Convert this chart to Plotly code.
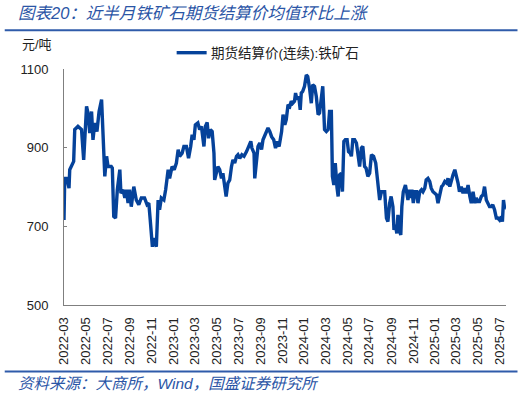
import plotly.graph_objects as go

dates = [
    "2022-03-01", "2022-03-03", "2022-03-09", "2022-03-15", "2022-03-17", "2022-03-24", "2022-03-28", "2022-03-31",
    "2022-04-09", "2022-04-19", "2022-04-25", "2022-05-03", "2022-05-07", "2022-05-12", "2022-05-17", "2022-05-21",
    "2022-05-26", "2022-06-01", "2022-06-07", "2022-06-14", "2022-06-18", "2022-06-23", "2022-06-28", "2022-07-02",
    "2022-07-11", "2022-07-14", "2022-07-18", "2022-07-23", "2022-07-28", "2022-08-04", "2022-08-07", "2022-08-13",
    "2022-08-18", "2022-08-22", "2022-08-27", "2022-08-31", "2022-09-05", "2022-09-12", "2022-09-19", "2022-09-26",
    "2022-10-03", "2022-10-12", "2022-10-19", "2022-10-24", "2022-10-28", "2022-11-03", "2022-11-07", "2022-11-14",
    "2022-11-19", "2022-11-23", "2022-11-28", "2022-12-05", "2022-12-10", "2022-12-17", "2022-12-21", "2022-12-28",
    "2023-01-03", "2023-01-09", "2023-01-14", "2023-01-18", "2023-01-25", "2023-01-30", "2023-02-06", "2023-02-12",
    "2023-02-18", "2023-02-22", "2023-02-27", "2023-03-03", "2023-03-10", "2023-03-15", "2023-03-20", "2023-03-24",
    "2023-03-27", "2023-03-31", "2023-04-05", "2023-04-09", "2023-04-14", "2023-04-19", "2023-04-24", "2023-04-26",
    "2023-04-30", "2023-05-05", "2023-05-10", "2023-05-15", "2023-05-19", "2023-05-24", "2023-05-28", "2023-06-02",
    "2023-06-07", "2023-06-12", "2023-06-16", "2023-06-21", "2023-06-26", "2023-06-30", "2023-07-05", "2023-07-11",
    "2023-07-17", "2023-07-24", "2023-07-30", "2023-08-05", "2023-08-08", "2023-08-14", "2023-08-16", "2023-08-21",
    "2023-08-25", "2023-08-30", "2023-09-04", "2023-09-08", "2023-09-13", "2023-09-18", "2023-09-22", "2023-09-27",
    "2023-10-02", "2023-10-08", "2023-10-13", "2023-10-17", "2023-10-23", "2023-10-30", "2023-11-03", "2023-11-08",
    "2023-11-12", "2023-11-17", "2023-11-22", "2023-11-26", "2023-11-30", "2023-12-05", "2023-12-08", "2023-12-12",
    "2023-12-17", "2023-12-21", "2023-12-24", "2023-12-28", "2024-01-02", "2024-01-07", "2024-01-11", "2024-01-16",
    "2024-01-21", "2024-01-25", "2024-01-30", "2024-02-04", "2024-02-09", "2024-02-13", "2024-02-18", "2024-02-22",
    "2024-02-27", "2024-03-03", "2024-03-08", "2024-03-12", "2024-03-17", "2024-03-20", "2024-03-24", "2024-03-28",
    "2024-04-02", "2024-04-05", "2024-04-09", "2024-04-14", "2024-04-17", "2024-04-21", "2024-04-25", "2024-04-30",
    "2024-05-04", "2024-05-09", "2024-05-12", "2024-05-16", "2024-05-21", "2024-05-26", "2024-05-30", "2024-06-04",
    "2024-06-09", "2024-06-13", "2024-06-18", "2024-06-22", "2024-06-27", "2024-07-02", "2024-07-07", "2024-07-13",
    "2024-07-19", "2024-07-22", "2024-07-26", "2024-07-30", "2024-08-04", "2024-08-08", "2024-08-13", "2024-08-18",
    "2024-08-22", "2024-08-27", "2024-08-31", "2024-09-05", "2024-09-08", "2024-09-12", "2024-09-16", "2024-09-19",
    "2024-09-23", "2024-09-27", "2024-09-30", "2024-10-04", "2024-10-10", "2024-10-14", "2024-10-17", "2024-10-21",
    "2024-10-25", "2024-10-28", "2024-11-01", "2024-11-05", "2024-11-10", "2024-11-14", "2024-11-19", "2024-11-24",
    "2024-11-28", "2024-12-03", "2024-12-07", "2024-12-12", "2024-12-17", "2024-12-21", "2024-12-26", "2024-12-31",
    "2025-01-05", "2025-01-09", "2025-01-14", "2025-01-19", "2025-01-23", "2025-01-28", "2025-02-02", "2025-02-06",
    "2025-02-11", "2025-02-15", "2025-02-20", "2025-02-25", "2025-03-01", "2025-03-06", "2025-03-10", "2025-03-15",
    "2025-03-20", "2025-03-24", "2025-03-29", "2025-04-03", "2025-04-08", "2025-04-12", "2025-04-17", "2025-04-22",
    "2025-04-26", "2025-04-30", "2025-05-05", "2025-05-10", "2025-05-15", "2025-05-19", "2025-05-24", "2025-05-28",
    "2025-06-02", "2025-06-07", "2025-06-11", "2025-06-16", "2025-06-21", "2025-06-25", "2025-06-30", "2025-07-05",
    "2025-07-08", "2025-07-11", "2025-07-14", "2025-07-18",
]

price = [
    716, 822, 822, 797, 844, 861, 865, 946,
    954, 946, 869, 1005, 988, 937, 992, 920,
    963, 941, 992, 1022, 946, 827, 878, 852,
    852, 848, 725, 721, 793, 844, 784, 793,
    772, 793, 759, 793, 750, 801, 767, 755,
    772, 772, 755, 759, 716, 648, 670, 648,
    767, 742, 772, 767, 793, 844, 822, 852,
    844, 861, 895, 878, 886, 903, 903, 873,
    903, 933, 920, 958, 963, 946, 954, 912,
    903, 954, 964, 924, 946, 941, 886, 818,
    831, 852, 844, 822, 835, 801, 776, 810,
    818, 852, 869, 861, 878, 882, 873, 882,
    878, 890, 903, 916, 899, 886, 822, 878,
    903, 912, 895, 920, 933, 941, 950, 941,
    928, 920, 899, 916, 903, 941, 984, 958,
    971, 1009, 1005, 1018, 1013, 1018, 1039, 1022,
    1030, 996, 1039, 1043, 1056, 1085, 1081, 1052,
    1013, 1060, 1056, 1030, 984, 988, 1030, 1056,
    946, 941, 946, 992, 992, 827, 805, 861,
    797, 776, 831, 835, 788, 916, 920, 920,
    890, 886, 878, 920, 920, 912, 886, 852,
    899, 903, 852, 848, 827, 835, 882, 878,
    861, 827, 801, 767, 788, 788, 788, 721,
    712, 759, 776, 750, 691, 704, 682, 729,
    691, 678, 750, 788, 805, 784, 767, 793,
    772, 793, 759, 788, 788, 759, 788, 793,
    788, 797, 818, 822, 814, 797, 788, 784,
    780, 759, 776, 801, 805, 814, 810, 822,
    801, 818, 831, 844, 831, 810, 788, 801,
    784, 797, 784, 805, 776, 759, 788, 759,
    772, 763, 763, 776, 780, 801, 767, 759,
    750, 750, 755, 742, 721, 721, 716, 725,
    712, 767, 746, 750,
]

tick_vals = ["2022-03-01", "2022-05-01", "2022-07-01", "2022-09-01", "2022-11-01",
             "2023-01-01", "2023-03-01", "2023-05-01", "2023-07-01", "2023-09-01", "2023-11-01",
             "2024-01-01", "2024-03-01", "2024-05-01", "2024-07-01", "2024-09-01", "2024-11-01",
             "2025-01-01", "2025-03-01", "2025-05-01", "2025-07-01"]
tick_text = [t[:7] for t in tick_vals]
y_ticks = [500, 700, 900, 1100]

series_name = "期货结算价(连续):铁矿石"
title_text = "图表20：近半月铁矿石期货结算价均值环比上涨"
source_text = "资料来源：大商所，Wind，国盛证券研究所"
unit_text = "元/吨"

W, H = 525, 397
L, R, T, B = 64.3, 506.5, 69.3, 305.0


def px(x):
    return (x - L) / (R - L)


def py(y):
    return (B - y) / (B - T)


LAT = "Liberation Sans, Arial, Noto Sans CJK SC, sans-serif"
CJK = "Liberation Sans, Noto Sans CJK SC, sans-serif"
blue_txt = "#2B55A6"
rule_col = "#2F5BAA"
line_col = "#05429A"

fig = go.Figure()
fig.add_trace(go.Scatter(
    x=dates, y=price, mode="lines", name=series_name,
    line=dict(color=line_col, width=3.4),
))

fig.update_layout(
    width=W, height=H,
    margin=dict(l=L, r=W - R, t=T, b=H - B, pad=0, autoexpand=False),
    paper_bgcolor="white", plot_bgcolor="white",
    showlegend=False,
    xaxis=dict(
        type="date", range=["2022-03-01", "2025-07-18"], automargin=False,
        tickmode="array", tickvals=tick_vals, ticktext=tick_text,
        tickangle=-90, ticks="", showgrid=False, zeroline=False,
        showline=True, linecolor="#7F7F7F", linewidth=1,
        tickfont=dict(family=LAT, size=13, color="#222222"),
        ticklabelstandoff=6,
    ),
    yaxis=dict(
        range=[500, 1100], tickmode="array", tickvals=y_ticks, automargin=False,
        ticks="inside", ticklen=3, tickcolor="#7F7F7F",
        showgrid=False, zeroline=False,
        showline=True, linecolor="#7F7F7F", linewidth=1,
        tickfont=dict(family=LAT, size=13, color="#222222"),
        ticklabelstandoff=12,
    ),
    shapes=[
        dict(type="line", xref="paper", yref="paper", x0=px(5), x1=px(518), y0=py(30.5), y1=py(30.5),
             line=dict(color=rule_col, width=2)),
        dict(type="line", xref="paper", yref="paper", x0=px(5), x1=px(518), y0=py(371.5), y1=py(371.5),
             line=dict(color=rule_col, width=2)),
        # legend key
        dict(type="line", xref="paper", yref="paper", x0=px(177), x1=px(207), y0=py(53), y1=py(53),
             line=dict(color=line_col, width=3.4)),
    ],
    annotations=[
        dict(text=title_text, xref="paper", yref="paper", x=px(16), y=py(13), xanchor="left", yanchor="middle",
             showarrow=False, font=dict(family=CJK, size=16.5, color=blue_txt, style="italic")),
        dict(text=source_text, xref="paper", yref="paper", x=px(16), y=py(383), xanchor="left", yanchor="middle",
             showarrow=False, font=dict(family=CJK, size=15.5, color=blue_txt, style="italic")),
        dict(text=unit_text, xref="paper", yref="paper", x=px(20), y=py(45), xanchor="left", yanchor="middle",
             showarrow=False, font=dict(family=CJK, size=13, color="#222222")),
        dict(text=series_name, xref="paper", yref="paper", x=px(209), y=py(53), xanchor="left", yanchor="middle",
             showarrow=False, font=dict(family=CJK, size=13.5, color="#222222")),
    ],
)

fig.write_html(
    "out.html",
    config={"displayModeBar": False},
    post_script="document.body.style.margin='0px';document.body.style.padding='0px';",
)
